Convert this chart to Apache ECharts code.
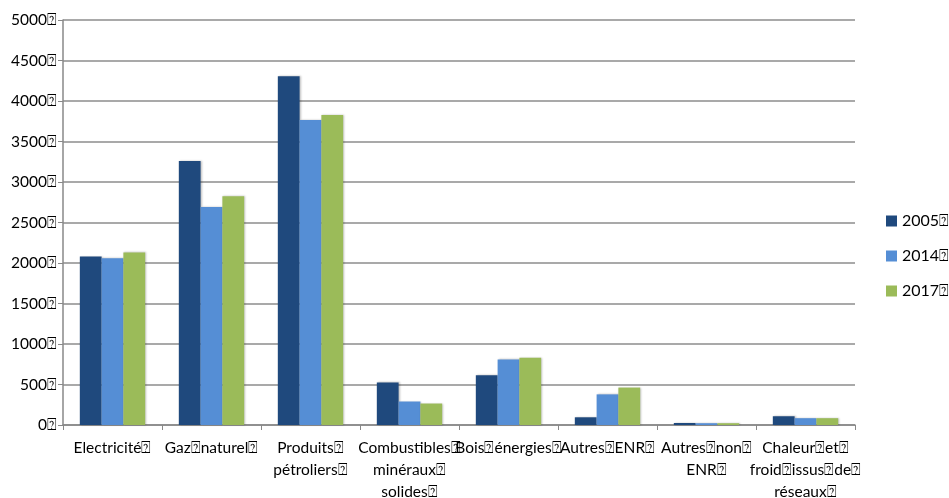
<!DOCTYPE html>
<html>
<head>
<meta charset="utf-8">
<script src="https://cdn.jsdelivr.net/npm/echarts@6/dist/echarts.min.js"></script>
<style>
  html, body { margin: 0; padding: 0; background: #fff; }
  #chart { width: 949px; height: 498px; }
</style>
</head>
<body>
<div id="chart"></div>
<script>
    // les carrés "⍰" reprennent les glyphes manquants de l'original
    var q = '\u2370'
    var categories = [
        'Electricité' + q,
        'Gaz' + q + 'naturel' + q,
        'Produits' + q + '\npétroliers' + q,
        'Combustibles' + q + '\nminéraux' + q + '\nsolides' + q,
        'Bois' + q + 'énergies' + q,
        'Autres' + q + 'ENR' + q,
        'Autres' + q + 'non' + q + '\nENR' + q,
        'Chaleur' + q + 'et' + q + '\nfroid' + q + 'issus' + q + 'de' + q + '\nréseaux' + q
    ]
    var years = ['2005', '2014', '2017']
    var values2005 = [2080, 3260, 4305, 525, 615, 95, 25, 108]
    var values2014 = [2060, 2690, 3765, 290, 810, 378, 22, 84]
    var values2017 = [2130, 2825, 3828, 265, 830, 462, 22, 84]
    var colors = ['#1f497d', '#558ed5', '#9bbb59']

    var font = 'Lato, "Open Sans", sans-serif'
    var chart = echarts.init(document.getElementById('chart'))

    function makeSeries(name, data, color) {
        return {
            name: name + q,
            type: 'bar',
            data: data,
            barGap: '0%',
            barCategoryGap: '34%',
            itemStyle: {
                color: color,
                shadowColor: 'rgba(0,0,0,0.25)',
                shadowBlur: 2,
                shadowOffsetX: 1,
                shadowOffsetY: 0
            }
        }
    }

    chart.setOption({
        animation: false,
        textStyle: { fontFamily: font },
        grid: { left: 63, right: 94, top: 20, bottom: 73, outerBoundsMode: 'none', containLabel: false },
        legend: {
            orient: 'vertical',
            left: 881,
            top: 208,
            itemWidth: 11,
            itemHeight: 11,
            itemGap: 19,
            icon: 'rect',
            textStyle: { fontSize: 16, color: '#000', fontFamily: font }
        },
        xAxis: {
            type: 'category',
            data: categories,
            axisLine: { lineStyle: { color: '#888', width: 1.5 } },
            axisTick: { show: true, length: 5, lineStyle: { color: '#888' } },
            axisLabel: {
                interval: 0,
                color: '#000',
                fontSize: 15.5,
                lineHeight: 22,
                margin: 12,
                align: 'center'
            }
        },
        yAxis: {
            type: 'value',
            min: 0,
            max: 5000,
            interval: 500,
            axisLine: { show: true, lineStyle: { color: '#888', width: 1.5 } },
            axisTick: { show: true, length: 5, lineStyle: { color: '#888' } },
            axisLabel: {
                color: '#000',
                fontSize: 15.5,
                margin: 6,
                formatter: function(v) { return v + q }
            },
            splitLine: { lineStyle: { color: '#8c8c8c', width: 1.5 } }
        },
        series: [
            makeSeries(years[0], values2005, colors[0]),
            makeSeries(years[1], values2014, colors[1]),
            makeSeries(years[2], values2017, colors[2])
        ]
    })
</script>
</body>
</html>
